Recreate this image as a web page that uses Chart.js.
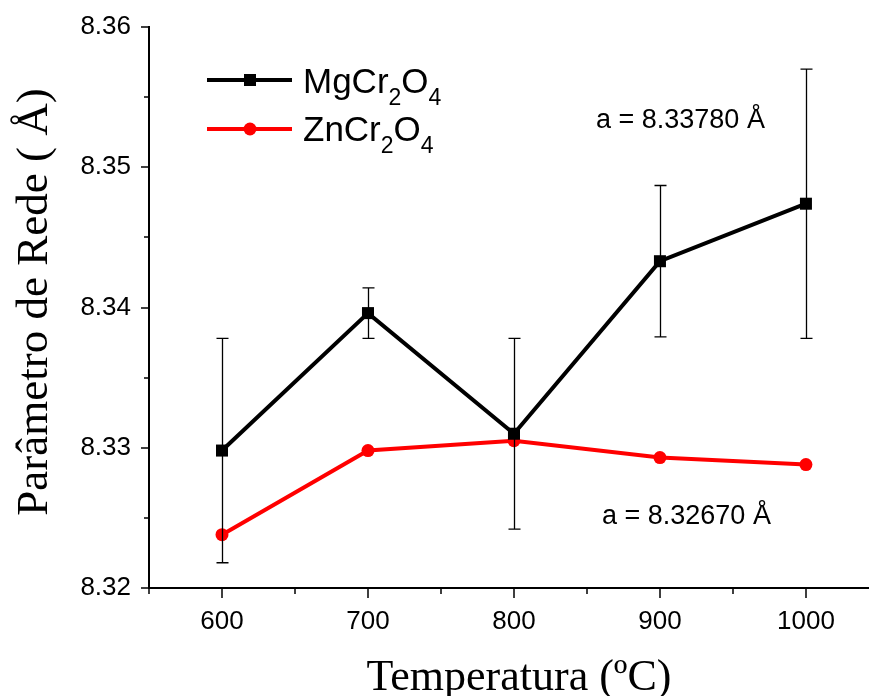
<!DOCTYPE html>
<html>
<head>
<meta charset="utf-8">
<script src="https://cdn.jsdelivr.net/npm/chart.js@4/dist/chart.umd.min.js"></script>
<style>
  html, body { margin: 0; padding: 0; background: #ffffff; }
  #wrap { width: 869px; height: 696px; }
</style>
</head>
<body>
<div id="wrap"><canvas id="c" width="869" height="696"></canvas></div>
<script>
// Calcination temperatures (ºC)
const temperatures = [600, 700, 800, 900, 1000];
// Lattice parameter of MgCr2O4 (Å) and its uncertainty
const mgCr2O4 = [8.3298, 8.3396, 8.3310, 8.3433, 8.3474];
const mgCr2O4Err = [0.0080, 0.0018, 0.0068, 0.0054, 0.0096];
// Lattice parameter of ZnCr2O4 (Å)
const znCr2O4 = [8.3238, 8.3298, 8.3305, 8.3293, 8.3288];
// Axis ticks
const xMajorTicks = [600, 700, 800, 900, 1000];
const xMinorTicks = [550, 650, 750, 850, 950];
const yMajorTicks = [8.32, 8.33, 8.34, 8.35, 8.36];
const yMinorTicks = [8.325, 8.335, 8.345, 8.355];
// Reference values quoted on the plot
const refLabels = ['a = 8.33780 Å', 'a = 8.32670 Å'];

const SANS = '"Liberation Sans", Arial, sans-serif';
const SERIF = '"Liberation Serif", "Times New Roman", serif';

const toPoints = (ys) => temperatures.map((t, i) => ({ x: t, y: ys[i] }));

// Ticks, error bars, legend, titles and notes
const decorations = {
  id: 'decorations',
  afterDatasetsDraw(chart) {
    const { ctx, scales: { x, y } } = chart;
    ctx.save();
    // error bars of MgCr2O4
    ctx.strokeStyle = '#000';
    ctx.lineWidth = 1.3;
    temperatures.forEach((t, i) => {
      const px = Math.round(x.getPixelForValue(t)) + 0.5;
      const top = y.getPixelForValue(mgCr2O4[i] + mgCr2O4Err[i]);
      const bot = y.getPixelForValue(mgCr2O4[i] - mgCr2O4Err[i]);
      ctx.beginPath();
      ctx.moveTo(px, top); ctx.lineTo(px, bot);
      ctx.moveTo(px - 6, top); ctx.lineTo(px + 6, top);
      ctx.moveTo(px - 6, bot); ctx.lineTo(px + 6, bot);
      ctx.stroke();
    });
    ctx.restore();
  },
  afterDraw(chart) {
    const { ctx, chartArea: a, scales: { x, y } } = chart;
    ctx.save();
    ctx.strokeStyle = '#000';
    ctx.lineWidth = 1.5;
    ctx.beginPath();
    xMajorTicks.forEach(v => { const p = Math.round(x.getPixelForValue(v)); ctx.moveTo(p, a.bottom); ctx.lineTo(p, a.bottom + 10); });
    xMinorTicks.forEach(v => { const p = Math.round(x.getPixelForValue(v)); ctx.moveTo(p, a.bottom); ctx.lineTo(p, a.bottom + 6); });
    yMajorTicks.forEach(v => { const p = Math.round(y.getPixelForValue(v)); ctx.moveTo(a.left, p); ctx.lineTo(a.left - 8, p); });
    yMinorTicks.forEach(v => { const p = Math.round(y.getPixelForValue(v)); ctx.moveTo(a.left, p); ctx.lineTo(a.left - 5, p); });
    ctx.stroke();

    // legend
    const rows = [
      { color: '#000', style: 'rect', parts: [['MgCr', 0], ['2', 1], ['O', 0], ['4', 1]], y: 80, base: 93 },
      { color: '#ff0000', style: 'circle', parts: [['ZnCr', 0], ['2', 1], ['O', 0], ['4', 1]], y: 129, base: 141 }
    ];
    rows.forEach(r => {
      ctx.strokeStyle = r.color; ctx.fillStyle = r.color; ctx.lineWidth = 4;
      ctx.beginPath(); ctx.moveTo(207, r.y); ctx.lineTo(292, r.y); ctx.stroke();
      if (r.style === 'rect') ctx.fillRect(244, r.y - 6, 12, 12);
      else { ctx.beginPath(); ctx.arc(250, r.y, 6.5, 0, Math.PI * 2); ctx.fill(); }
      ctx.fillStyle = '#000'; ctx.textBaseline = 'alphabetic'; ctx.textAlign = 'left';
      let cx = 303;
      r.parts.forEach(([txt, sub]) => {
        ctx.font = sub ? '23px ' + SANS : '35px ' + SANS;
        ctx.fillText(txt, cx, r.base + (sub ? 12 : 0));
        cx += ctx.measureText(txt).width;
      });
    });

    // reference values
    ctx.font = '27px ' + SANS; ctx.fillStyle = '#000'; ctx.textAlign = 'left';
    ctx.fillText(refLabels[0], 596, 128);
    ctx.fillText(refLabels[1], 602, 524);

    // axis titles
    ctx.font = '44px ' + SERIF; ctx.textAlign = 'center';
    ctx.fillText('Temperatura (ºC)', 519, 690);
    ctx.save();
    ctx.font = '45px ' + SERIF;
    ctx.translate(47, 302); ctx.rotate(-Math.PI / 2);
    ctx.fillText('Parâmetro de Rede ( Å)', 0, 0);
    ctx.restore();
    ctx.restore();
  }
};

new Chart(document.getElementById('c'), {
  type: 'line',
  data: {
    datasets: [
      {
        label: 'MgCr2O4', data: toPoints(mgCr2O4),
        borderColor: '#000', backgroundColor: '#000', borderWidth: 4,
        pointStyle: 'rect', pointRadius: 8.5, pointBorderWidth: 0, tension: 0
      },
      {
        label: 'ZnCr2O4', data: toPoints(znCr2O4),
        borderColor: '#ff0000', backgroundColor: '#ff0000', borderWidth: 4,
        pointStyle: 'circle', pointRadius: 6.5, pointBorderWidth: 0, tension: 0
      }
    ]
  },
  options: {
    responsive: false,
    animation: false,
    devicePixelRatio: 1,
    layout: { autoPadding: false, padding: { top: 27, right: 0, bottom: 0, left: 0 } },
    plugins: { legend: { display: false }, tooltip: { enabled: false } },
    scales: {
      x: {
        type: 'linear', min: 550, max: 1043.2,
        afterBuildTicks: s => { s.ticks = xMajorTicks.map(v => ({ value: v })); },
        afterFit: s => { s.height = 108; s.paddingLeft = 0; s.paddingRight = 0; },
        grid: { display: false, drawTicks: false },
        border: { display: true, color: '#000', width: 2 },
        ticks: { color: '#000', font: { family: SANS, size: 26 }, padding: 18, maxRotation: 0, autoSkip: false,
                 callback: v => String(v) }
      },
      y: {
        type: 'linear', min: 8.32, max: 8.36,
        afterBuildTicks: s => { s.ticks = yMajorTicks.map(v => ({ value: v })); },
        afterFit: s => { s.width = 149; s.paddingTop = 0; s.paddingBottom = 0; },
        grid: { display: false, drawTicks: false },
        border: { display: true, color: '#000', width: 2 },
        ticks: { color: '#000', font: { family: SANS, size: 26 }, padding: 18,
                 callback: v => v.toFixed(2) }
      }
    }
  },
  plugins: [decorations]
});
</script>
</body>
</html>
